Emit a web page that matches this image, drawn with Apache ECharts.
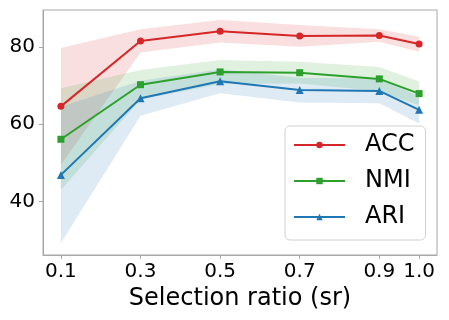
<!DOCTYPE html>
<html>
<head>
<meta charset="utf-8">
<script src="https://cdn.jsdelivr.net/npm/echarts@6/dist/echarts.min.js"></script>
<style>
  html, body { margin: 0; padding: 0; background: #fff; }
  #chart { width: 449px; height: 320px; }
</style>
</head>
<body>
<div id="chart"></div>
<script>
const ratios = [0.1, 0.3, 0.5, 0.7, 0.9, 1.0]
const xTicks = [0.1, 0.3, 0.5, 0.7, 0.9, 1.0]
const yTicks = [40, 60, 80]

const accMean = [64.6, 81.5, 84.0, 82.8, 82.9, 80.7]
const accLow = [49.5, 78.5, 81.1, 80.0, 81.3, 78.7]
const accHigh = [79.7, 84.5, 86.9, 85.6, 84.5, 82.6]

const nmiMean = [56.1, 70.2, 73.5, 73.3, 71.7, 67.9]
const nmiLow = [43.0, 66.4, 70.4, 70.5, 68.6, 64.8]
const nmiHigh = [69.3, 74.0, 76.6, 76.1, 74.8, 71.0]

const ariMean = [46.9, 66.7, 71.1, 68.8, 68.6, 63.7]
const ariLow = [29.3, 62.2, 68.0, 65.6, 65.4, 60.2]
const ariHigh = [64.5, 71.2, 74.2, 72.0, 71.8, 67.2]

const FONT = 'DejaVu Sans'
const SPINE = '#a8a8a8'

const chart = echarts.init(document.getElementById('chart'), null, { renderer: 'canvas' })

// shaded band between low and high, drawn as one polygon
const band = (name, low, high, color) => ({
  name: name + '_band',
  type: 'custom',
  silent: true,
  z: 1,
  clip: true,
  data: ratios.map((x, i) => [x, low[i], high[i]]),
  renderItem: (params, api) => {
    if (params.dataIndex !== 0) return null
    const top = ratios.map((x, i) => api.coord([x, high[i]]))
    const bottom = ratios.map((x, i) => api.coord([x, low[i]])).reverse()
    return {
      type: 'polygon',
      shape: { points: top.concat(bottom) },
      style: { fill: color, opacity: 0.15 }
    }
  }
})

const line = (name, values, color, symbol, size) => ({
  name,
  type: 'line',
  z: 3,
  data: ratios.map((x, i) => [x, values[i]]),
  symbol,
  symbolSize: size,
  lineStyle: { color, width: 2 },
  itemStyle: { color },
  emphasis: { disabled: true }
})

const option = {
  animation: false,
  textStyle: { fontFamily: FONT },
  grid: { left: 43, right: 12, top: 10, bottom: 65 },
  legend: {
    data: ['ACC', 'NMI', 'ARI'],
    orient: 'vertical',
    left: 285,
    top: 126,
    padding: [7, 11, 11, 8],
    itemGap: 12,
    itemWidth: 51,
    itemHeight: 8,
    borderColor: '#d0d0d0',
    borderWidth: 1,
    borderRadius: 5,
    backgroundColor: 'rgba(255,255,255,0.8)',
    textStyle: { fontFamily: FONT, fontSize: 24, color: '#000', lineHeight: 24, padding: [0, 0, 0, 15] }
  },
  xAxis: {
    type: 'value',
    min: 0.055,
    max: 1.045,
    name: 'Selection ratio (sr)',
    nameLocation: 'middle',
    nameGap: 30,
    nameTextStyle: { fontFamily: FONT, fontSize: 24, color: '#000' },
    axisLine: { lineStyle: { color: SPINE, width: 1 } },
    axisTick: { show: true, length: 4, lineStyle: { color: SPINE }, customValues: xTicks },
    axisLabel: {
      fontFamily: FONT, fontSize: 20, color: '#000', margin: 7,
      customValues: xTicks,
      formatter: v => v.toFixed(1)
    },
    splitLine: { show: false }
  },
  yAxis: {
    type: 'value',
    min: 26.2,
    max: 89.5,
    axisLine: { show: true, lineStyle: { color: SPINE, width: 1 } },
    axisTick: { show: true, length: 4, lineStyle: { color: SPINE }, customValues: yTicks },
    axisLabel: {
      fontFamily: FONT, fontSize: 20, color: '#000', margin: 8,
      customValues: yTicks
    },
    splitLine: { show: false }
  },
  series: [
    band('ACC', accLow, accHigh, '#d62728'),
    band('NMI', nmiLow, nmiHigh, '#2ca02c'),
    band('ARI', ariLow, ariHigh, '#1f77b4'),
    line('ACC', accMean, '#d62728', 'circle', 7),
    line('NMI', nmiMean, '#2ca02c', 'rect', 7),
    line('ARI', ariMean, '#1f77b4', 'triangle', 8)
  ]
}

chart.setOption(option)

// frame on top and right, like the matplotlib spines
const rect = chart.getModel().getComponent('grid').coordinateSystem.getRect()
chart.setOption({
  graphic: [{
    type: 'rect',
    silent: true,
    z: 0,
    shape: { x: rect.x, y: rect.y, width: rect.width, height: rect.height },
    style: { fill: 'none', stroke: SPINE, lineWidth: 1 }
  }]
})
</script>
</body>
</html>
